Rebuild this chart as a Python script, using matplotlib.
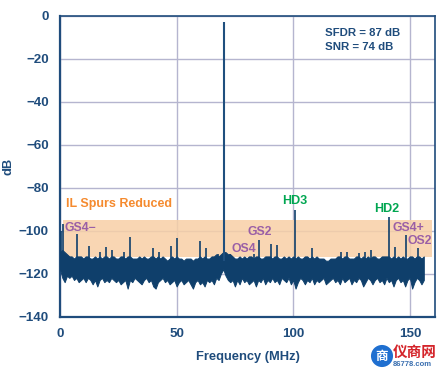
import matplotlib
matplotlib.use("Agg")
import matplotlib.pyplot as plt
from matplotlib.patches import Circle

plt.rcParams['font.family'] = ['Liberation Sans', 'DejaVu Sans']

# Noise floor envelope, one value per MHz (0..156)
noise_freq = list(range(157))
noise_top = [-110,-109,-110,-111,-112,-112,-113,-112,-112,-112,-113,-112,-112,-113,-113,-112,-113,-112,-113,-112,
             -112,-113,-112,-112,-113,-113,-112,-112,-113,-112,-112,-113,-113,-113,-112,-113,-112,-113,-113,-112,
             -112,-113,-112,-113,-112,-113,-114,-113,-112,-113,-112,-113,-113,-114,-113,-113,-113,-114,-113,-113,
             -112,-113,-112,-113,-113,-112,-112,-111,-112,-111,-110,-110,-111,-111,-112,-113,-113,-112,-113,-112,
             -113,-112,-112,-113,-112,-112,-113,-113,-112,-112,-112,-113,-112,-112,-113,-113,-112,-113,-112,-113,
             -112,-113,-112,-113,-113,-112,-112,-113,-112,-113,-112,-113,-113,-113,-114,-114,-113,-113,-113,-112,
             -112,-113,-112,-112,-113,-113,-113,-112,-112,-113,-112,-113,-112,-113,-112,-112,-113,-113,-112,-112,
             -112,-112,-113,-112,-113,-112,-113,-112,-113,-113,-112,-112,-113,-112,-112,-113,-112]
noise_bot = [-118,-122,-124,-121,-122,-121,-123,-122,-124,-123,-122,-124,-122,-123,-125,-123,-126,-123,-122,-124,
             -123,-124,-122,-123,-124,-123,-125,-124,-123,-127,-123,-124,-122,-123,-124,-125,-123,-122,-124,-123,
             -126,-127,-124,-123,-122,-124,-123,-125,-124,-123,-126,-124,-123,-125,-124,-123,-125,-127,-124,-123,
             -125,-124,-126,-123,-124,-123,-125,-122,-123,-120,-118,-121,-123,-124,-123,-126,-123,-125,-122,-124,
             -123,-125,-124,-123,-126,-123,-124,-122,-125,-123,-124,-122,-124,-123,-125,-122,-123,-124,-122,-125,
             -123,-127,-124,-122,-123,-125,-123,-124,-122,-125,-123,-124,-123,-122,-125,-124,-123,-122,-124,-123,
             -125,-122,-124,-123,-122,-125,-123,-124,-122,-123,-126,-124,-122,-123,-125,-123,-122,-124,-123,-125,
             -122,-124,-123,-126,-123,-122,-124,-123,-126,-123,-122,-127,-124,-122,-123,-125,-123]

# Discrete spurs
spur_freq = [0.4, 1.1, 7.2, 12.3, 17.2, 19.9, 22.3, 27.4, 29.9, 39.9, 42.4, 47.4, 50.0, 60.2, 62.6, 67.9,
             73.0, 83.0, 85.4, 90.5, 93.0, 100.6, 108.1, 120.6, 123.0, 128.2, 130.7, 133.3, 140.9, 143.5, 148.5, 153.5]
spur_db = [-100, -97, -101.7, -107, -110, -107.5, -109, -110, -103, -108, -110, -107, -103.6, -104.8, -108, -111,
           -111, -111, -104.4, -106, -106.5, -90.4, -108, -110, -110, -110.5, -110, -109, -93.8, -107.5, -102, -108]
carrier_freq = 70.5
carrier_db = -3

x_ticks = [0, 50, 100, 150]
x_tick_labels = ['0', '50', '100', '150']
y_ticks = [0, -20, -40, -60, -80, -100, -120, -140]
y_tick_labels = ['0', '−20', '−40', '−60', '−80', '−100', '−120', '−140']
band_low, band_high = -112.5, -95
band_start, band_end = 1.3, 159.6

NAVY = '#0f3f6b'
AXC = '#1f4c7c'
GRID = '#b5b5cf'
BAND = '#f8cfa6'
GREEN = '#00a651'
ORANGE = '#f58a2e'
PURPLE = '#9a5fa6'

W, H = 439, 370
fig = plt.figure(figsize=(W / 100, H / 100), dpi=100)
ax = fig.add_axes([60 / W, 1 - 316.5 / H, 375 / W, 300.5 / H])
ax.set_xlim(0, 160.8)
ax.set_ylim(-140, 0)

ax.set_xticks(x_ticks)
ax.set_xticklabels(x_tick_labels)
ax.set_yticks(y_ticks)
ax.set_yticklabels(y_tick_labels)
ax.tick_params(length=0, labelsize=9.6, labelcolor=AXC, pad=8)
for lab_ in ax.get_xticklabels() + ax.get_yticklabels():
    lab_.set_fontweight('bold')
ax.tick_params(axis='x', pad=8)
ax.grid(True, color=GRID, lw=1.0, zorder=1)
ax.set_axisbelow(True)
for name, sp in ax.spines.items():
    sp.set_color(AXC)
    sp.set_linewidth(1.6 if name in ('left', 'bottom') else 1.2)

ax.axhspan(band_low, band_high, xmin=band_start / 160.8, xmax=band_end / 160.8,
           facecolor=BAND, alpha=0.85, lw=0, zorder=1.5)

ax.fill_between(noise_freq, noise_bot, noise_top, color=NAVY, lw=0.7, zorder=3)
ax.vlines(spur_freq, -114, spur_db, color=NAVY, lw=1.2, zorder=3)
ax.vlines([carrier_freq], -114, [carrier_db], color='#1f4f7e', lw=1.5, zorder=3)

ax.set_xlabel('Frequency (MHz)', fontsize=9.3, fontweight='bold', color=AXC, labelpad=8)
ax.set_ylabel('dB', fontsize=9.3, fontweight='bold', color=AXC, labelpad=3)

def lab(px, py, s, c, fs=9, ha='left'):
    fig.text(px / W, 1 - py / H, s, color=c, fontsize=fs, fontweight='bold', ha=ha, va='center', zorder=6)

lab(325, 33, 'SFDR = 87 dB', AXC, 8.2)
lab(325, 47.5, 'SNR = 74 dB', AXC, 8.2)
lab(66, 204.5, 'IL Spurs Reduced', ORANGE, 9)
lab(65, 227.5, 'GS4−', PURPLE, 8.8)
lab(248, 231.5, 'GS2', PURPLE, 8.8)
lab(232, 249, 'OS4', PURPLE, 8.8)
lab(282, 201, 'HD3', GREEN, 9)
lab(374, 208.5, 'HD2', GREEN, 9)
lab(393, 227.5, 'GS4+', PURPLE, 8.8)
lab(408, 240.5, 'OS2', PURPLE, 8.8)

# Watermark
wm = fig.add_axes([370 / W, 1 - 368 / H, 24 / W, 24 / H])
wm.set_xlim(0, 1); wm.set_ylim(0, 1); wm.axis('off')
wm.add_patch(Circle((0.5, 0.5), 0.46, color='#1f6fd0', lw=0))
wm.text(0.5, 0.47, '商', color='white', fontsize=9, ha='center', va='center',
        family=['Noto Sans CJK SC', 'DejaVu Sans'], fontweight='bold')
fig.text(393 / W, 1 - 351.5 / H, '仪商网', color='#d4242a', fontsize=10.5, fontweight='bold',
         ha='left', va='center', family=['Noto Sans CJK SC', 'DejaVu Sans'])
fig.text(393 / W, 1 - 364 / H, '86778.com', color='#3a6fb0', fontsize=5.5, fontweight='bold',
         ha='left', va='center')

fig.savefig('out.png', dpi=100, facecolor='white')
